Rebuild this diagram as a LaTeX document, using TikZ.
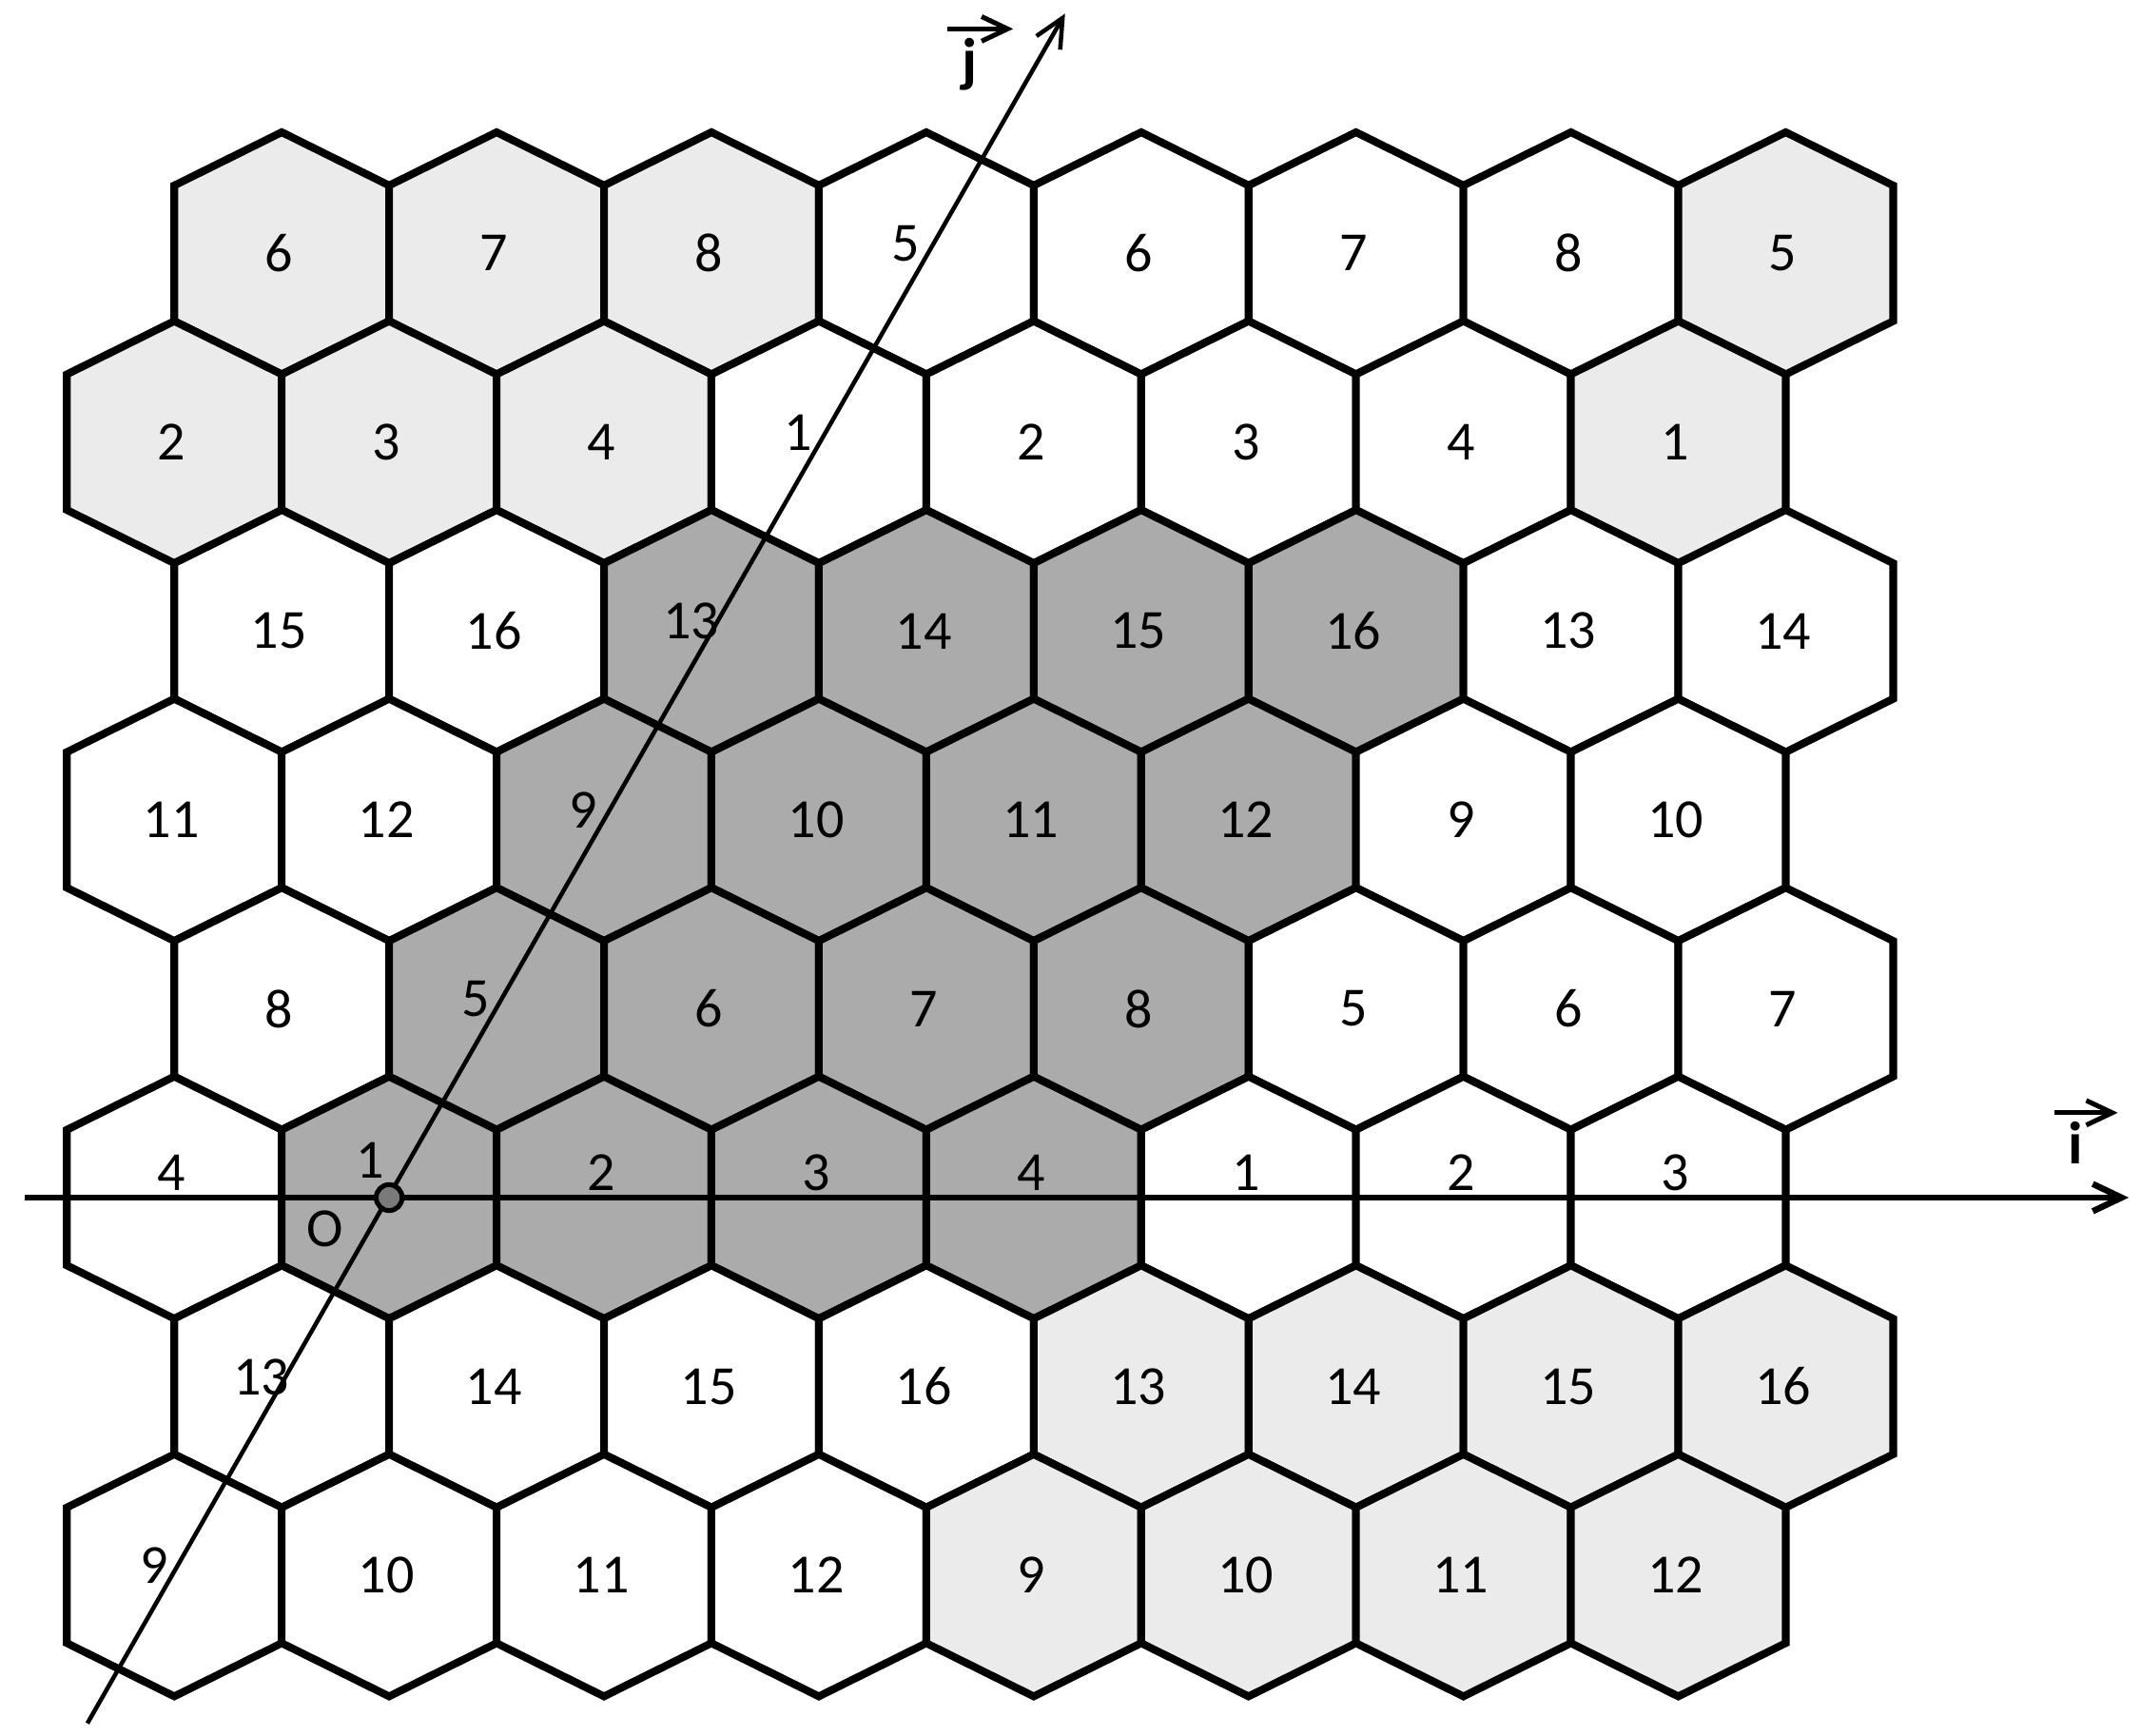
\documentclass[tikz,border=0pt]{standalone}
\usepackage{fontspec}
\setmainfont{Carlito}
\usetikzlibrary{arrows.meta,calc}

\definecolor{pale}{HTML}{EBEBEB}
\definecolor{dark}{HTML}{ABABAB}
\definecolor{odot}{HTML}{7A7A7A}

\begin{document}
\begin{tikzpicture}[
    hexcell/.style={draw=black, line width=1.6pt},
    cellnum/.style={inner sep=0pt, xshift=-0.02cm, font=\fontsize{11.5}{13}\selectfont},
    atc/.style={},
    bj/.style={xshift=-0.13cm, yshift=0.07cm},
    ai/.style={anchor=base, yshift=0.05cm},
    no/.style={anchor=base, xshift=-0.12cm, yshift=0.145cm},
    axisline/.style={line width=1.3pt, -{Straight Barb[length=2.1mm,width=2mm]}},
    jaxisline/.style={line width=0.9pt, -{Straight Barb[length=2.1mm,width=2mm]}},
    vecarrow/.style={line width=1pt, -{Straight Barb[length=1.9mm,width=1.8mm]}},
    veclabel/.style={inner sep=0pt, font=\fontsize{12.5}{14}\selectfont\bfseries},
    origindot/.style={circle, draw, line width=1pt, fill=odot, minimum size=0.19cm, inner sep=0pt},
  ]
  \useasboundingbox[fill=white] (-2.85,-3.94) rectangle (12.83,8.77);

  % Hexagonal cells, row by row
  \foreach \r/\dx/\cells in {
      1/0.787/{6/pale/atc,7/pale/atc,8/pale/atc,5/white/bj,6/white/atc,7/white/atc,8/white/atc,5/pale/atc},
      2/0/{2/pale/atc,3/pale/atc,4/pale/atc,1/white/bj,2/white/atc,3/white/atc,4/white/atc,1/pale/atc},
      3/0.787/{15/white/atc,16/white/atc,13/dark/bj,14/dark/atc,15/dark/atc,16/dark/atc,13/white/atc,14/white/atc},
      4/0/{11/white/atc,12/white/atc,9/dark/bj,10/dark/atc,11/dark/atc,12/dark/atc,9/white/atc,10/white/atc},
      5/0.787/{8/white/atc,5/dark/bj,6/dark/atc,7/dark/atc,8/dark/atc,5/white/atc,6/white/atc,7/white/atc},
      6/0/{4/white/ai,1/dark/no,2/dark/ai,3/dark/ai,4/dark/ai,1/white/ai,2/white/ai,3/white/ai},
      7/0.787/{13/white/bj,14/white/atc,15/white/atc,16/white/atc,13/pale/atc,14/pale/atc,15/pale/atc,16/pale/atc},
      8/0/{9/white/bj,10/white/atc,11/white/atc,12/white/atc,9/pale/atc,10/pale/atc,11/pale/atc,12/pale/atc}}{
    \foreach \n/\f/\p [count=\k] in \cells {
      \coordinate (c-\r-\k) at ({(\k-2)*1.5735+\dx},{(6-\r)*1.383});
      \filldraw[hexcell, fill=\f] ([yshift=0.8865cm]c-\r-\k) -- ++(0.787,-0.39) -- ++(0,-0.993)
        -- ++(-0.787,-0.39) -- ++(-0.787,0.39) -- ++(0,0.993) -- cycle;
      \node[cellnum, \p] (n-\r-\k) at (c-\r-\k) {\n};
    }
  }

  % Axes
  \coordinate (iFrom) at (-2.67,0);
  \coordinate (iTo) at (12.74,0);
  \coordinate (jFrom) at (-2.21,-3.85);
  \coordinate (jTo) at (4.95,8.67);
  \draw[axisline] (iFrom) -- (iTo);
  \draw[jaxisline] (jFrom) -- (jTo);

  % Origin
  \node[origindot] (O) at (0,0) {};
  \node[cellnum] (Olbl) at (-0.45,-0.23) {O};

  % Unit vectors
  \node[veclabel] (ilbl) at (12.35,0.40) {i};
  \draw[vecarrow] ([xshift=-0.155cm,yshift=0.06cm]ilbl.north) -- ++(0.465,0);
  \node[veclabel] (jlbl) at (4.25,8.30) {j};
  \draw[vecarrow] ([xshift=-0.16cm,yshift=0.06cm]jlbl.north) -- ++(0.48,0);
\end{tikzpicture}
\end{document}
